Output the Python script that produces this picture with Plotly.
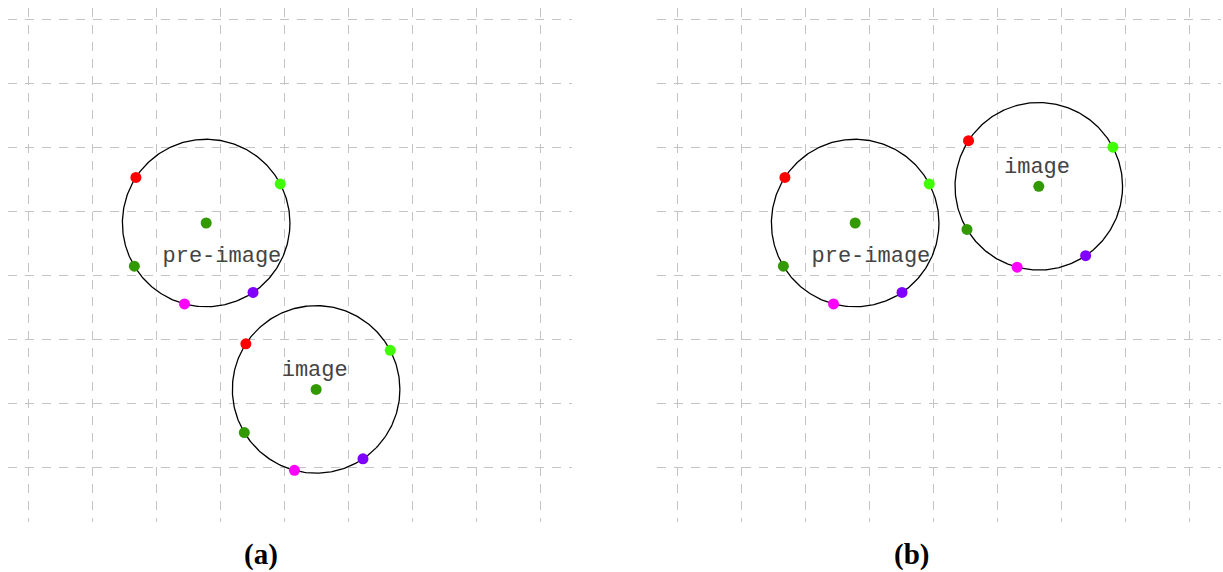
import numpy as np
import plotly.graph_objects as go

# ---- data (grid units; one grid cell = 1) ----
grid_x = list(range(0, 9))
grid_y = list(range(0, 8))

radius = 1.309
preimage_center = (2.784, 3.817)
image_a_center = (4.502, 1.217)
image_b_center = (5.653, 4.391)

point_angles_deg = [147.0, 27.8, 211.0, 255.0, 304.0]
point_colors = ["#ff0000", "#40ff00", "#339900", "#ff00ff", "#8000ff"]
center_color = "#339900"

labels = ["pre-image", "image", "image"]
label_pos_pre = (3.03, 3.30)
label_pos_img_a = (4.48, 1.515)
label_pos_img_b = (5.625, 4.68)

captions = ["(a)", "(b)"]

# ---- figure ----
W, H = 1223, 572
fig = go.Figure()


def add_circle(center, label, label_pos, xa, ya):
    cx, cy = center
    t = np.linspace(0, 2 * np.pi, 361)
    fig.add_trace(go.Scatter(
        x=cx + radius * np.cos(t), y=cy + radius * np.sin(t),
        mode="lines", line=dict(color="black", width=1.3),
        hoverinfo="skip", showlegend=False, xaxis=xa, yaxis=ya))
    ang = np.deg2rad(point_angles_deg)
    fig.add_trace(go.Scatter(
        x=cx + radius * np.cos(ang), y=cy + radius * np.sin(ang),
        mode="markers", marker=dict(size=11, color=point_colors, line=dict(width=0)),
        showlegend=False, xaxis=xa, yaxis=ya))
    fig.add_trace(go.Scatter(
        x=[cx], y=[cy], mode="markers",
        marker=dict(size=11, color=center_color, line=dict(width=0)),
        showlegend=False, xaxis=xa, yaxis=ya))
    fig.add_trace(go.Scatter(
        x=[label_pos[0]], y=[label_pos[1]], mode="text", text=[label],
        textposition="middle center",
        textfont=dict(family="Liberation Mono, Courier New, monospace", size=22, color="#444444"),
        showlegend=False, hoverinfo="skip", xaxis=xa, yaxis=ya))


# panel (a)
add_circle(preimage_center, labels[0], label_pos_pre, "x", "y")
add_circle(image_a_center, labels[1], label_pos_img_a, "x", "y")
# panel (b)
add_circle(preimage_center, labels[0], label_pos_pre, "x2", "y2")
add_circle(image_b_center, labels[2], label_pos_img_b, "x2", "y2")

unit = 64.0
x_range = [-20 / unit, 544 / unit]
y_range = [(467.3 - 521.7) / unit, (467.3 - 8.3) / unit]
y_dom = [(H - 521.7) / H, (H - 8.3) / H]

axis_common = dict(
    showgrid=True, gridcolor="#c4c4c4", gridwidth=1, griddash="9px,8px",
    zeroline=False, showline=False, showticklabels=False, ticks="",
    dtick=1, tick0=0, fixedrange=True,
)

fig.update_layout(
    width=W, height=H,
    margin=dict(l=0, r=0, t=0, b=0),
    paper_bgcolor="white", plot_bgcolor="white",
    xaxis=dict(domain=[8 / W, 572 / W], range=x_range, anchor="y", **axis_common),
    yaxis=dict(domain=y_dom, range=y_range, anchor="x", **axis_common),
    xaxis2=dict(domain=[657 / W, 1221 / W], range=x_range, anchor="y2", **axis_common),
    yaxis2=dict(domain=y_dom, range=y_range, anchor="x2", **axis_common),
    showlegend=False,
)

caption_x_px = [261, 911]
for cap, xp in zip(captions, caption_x_px):
    fig.add_annotation(
        text="<b>%s</b>" % cap, xref="paper", yref="paper",
        x=xp / W, y=1 - 554 / H, showarrow=False,
        xanchor="center", yanchor="middle",
        font=dict(family="Liberation Serif, Times New Roman, serif", size=29, color="black"))

fig.write_html(
    "out.html",
    config={"displayModeBar": False},
    post_script="document.body.style.margin='0';document.body.style.overflow='hidden';",
)
